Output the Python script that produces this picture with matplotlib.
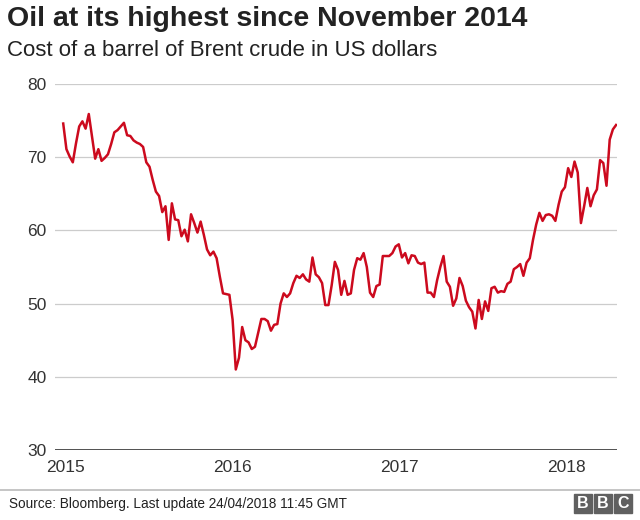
import numpy as np
import pandas as pd
import matplotlib
matplotlib.use('Agg')
import matplotlib.pyplot as plt
import matplotlib.dates as mdates
from matplotlib.patches import Rectangle
from matplotlib.lines import Line2D

plt.rcParams['font.family'] = ['Liberation Sans', 'DejaVu Sans']

# weekly Brent price (US$ per barrel)
start_date = '2014-12-26'
brent_usd = [
    74.6, 71.1, 70.1, 69.3, 71.9, 74.2, 74.9, 73.9, 75.9, 72.8,
    69.8, 71.1, 69.5, 69.9, 70.4, 71.8, 73.4, 73.7, 74.2, 74.7,
    73.0, 72.9, 72.3, 72.0, 71.8, 71.4, 69.3, 68.7, 66.9, 65.3,
    64.7, 62.5, 63.3, 58.7, 63.7, 61.5, 61.4, 59.2, 60.1, 58.5,
    62.2, 61.0, 59.7, 61.2, 59.4, 57.4, 56.6, 57.1, 56.2, 53.7,
    51.4, 51.3, 51.2, 47.8, 41.0, 42.6, 46.8, 45.0, 44.7, 43.8,
    44.1, 46.0, 47.9, 47.9, 47.6, 46.3, 47.1, 47.2, 50.0, 51.4,
    50.9, 51.4, 52.8, 53.8, 53.5, 54.0, 53.3, 53.0, 56.3, 54.0,
    53.6, 52.8, 49.8, 49.8, 52.5, 55.7, 54.6, 51.2, 53.1, 51.2,
    51.4, 54.6, 56.2, 56.0, 56.9, 55.0, 51.5, 50.9, 52.4, 52.6,
    56.5, 56.5, 56.5, 56.9, 57.8, 58.1, 56.3, 56.9, 55.5, 56.6,
    56.5, 55.6, 55.4, 55.6, 51.5, 51.5, 50.9, 53.2, 55.0, 56.5,
    53.0, 52.3, 49.7, 50.7, 53.5, 52.4, 50.4, 49.5, 48.9, 46.6,
    50.5, 47.9, 50.3, 49.0, 52.1, 52.3, 51.5, 51.7, 51.6, 52.7,
    53.0, 54.7, 55.0, 55.4, 53.8, 55.6, 56.2, 58.7, 60.8, 62.4,
    61.3, 62.1, 62.2, 62.0, 61.3, 63.5, 65.3, 65.9, 68.5, 67.3,
    69.4, 67.9, 61.0, 63.3, 65.8, 63.3, 64.8, 65.6, 69.6, 69.2,
    66.1, 72.4, 73.8, 74.4,
]
dates = pd.date_range(start_date, periods=len(brent_usd), freq='7D')

y_ticks = [30, 40, 50, 60, 70, 80]
year_labels = ['2015', '2016', '2017', '2018']

title = 'Oil at its highest since November 2014'
subtitle = 'Cost of a barrel of Brent crude in US dollars'
source = 'Source: Bloomberg. Last update 24/04/2018 11:45 GMT'

W, H = 640, 520
fig = plt.figure(figsize=(W / 100, H / 100), dpi=100)
ax = fig.add_axes([55 / W, 1 - 450 / H, (617 - 55) / W, (450 - 84) / H])

ax.plot(dates, brent_usd, color='#cc0a1e', lw=1.8, zorder=3)

ax.set_ylim(30, 80)
ax.set_xlim(pd.Timestamp('2014-12-08'), pd.Timestamp('2018-04-22'))
ax.set_yticks(y_ticks)
ax.set_xticks([pd.Timestamp(y + '-01-01') for y in year_labels])
ax.set_xticklabels(year_labels)
ax.tick_params(axis='both', length=0, labelsize=12.5, colors='#333333')
ax.tick_params(axis='y', pad=6)
ax.tick_params(axis='x', pad=7)

for v in y_ticks[1:]:
    ax.axhline(v, color='#cccccc', lw=0.9, zorder=1)
ax.axhline(30, color='#333333', lw=1.2, zorder=2)

for s in ax.spines.values():
    s.set_visible(False)

fig.text(7 / W, 1 - 19 / H, title, fontsize=20.5, fontweight='bold',
         color='#222222', va='center', ha='left')
fig.text(7 / W, 1 - 50 / H, subtitle, fontsize=16, color='#222222',
         va='center', ha='left')

# footer
fig.add_artist(Line2D([0, 1], [1 - 490 / H] * 2, color='#bbbbbb', lw=1.2))
fig.text(9 / W, 1 - 504 / H, source, fontsize=9.8, color='#222222',
         va='center', ha='left')

# BBC blocks
for i, letter in enumerate('BBC'):
    x0 = 574 + i * 20
    fig.add_artist(Rectangle((x0 / W, 1 - 513 / H), 18 / W, 19 / H,
                             color='#606060', transform=fig.transFigure))
    fig.text((x0 + 9) / W, 1 - 503.5 / H, letter, fontsize=11.5, fontweight='bold',
             color='white', ha='center', va='center')

fig.savefig('out.png', dpi=100)
